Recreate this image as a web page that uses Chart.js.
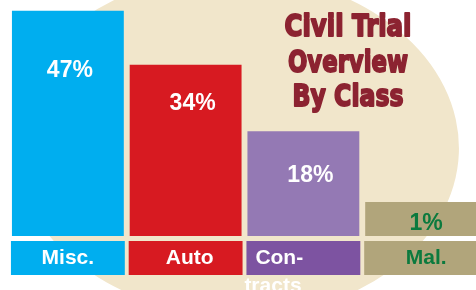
<!DOCTYPE html>
<html>
<head>
<meta charset="utf-8">
<script src="https://cdn.jsdelivr.net/npm/chart.js@4.4.1/dist/chart.umd.min.js"></script>
<style>
  html, body { margin: 0; padding: 0; background: #ffffff; overflow: hidden; }
  #wrap { width: 476px; height: 290px; overflow: hidden; position: relative; }
  canvas { display: block; }
</style>
</head>
<body>
<div id="wrap"><canvas id="c" width="482" height="290"></canvas></div>
<script>
// ---- data ----
const categories = ['Misc.', 'Auto', 'Contracts', 'Mal.'];
const categoryLines = [['Misc.'], ['Auto'], ['Con-', 'tracts'], ['Mal.']];
const shares = [47, 34, 18, 1];
const shareLabels = ['47%', '34%', '18%', '1%'];
const titleLines = ['Civil Trial', 'Overview', 'By Class'];
const axisFloor = -7.2;
const axisTop = 49.56;

// ---- styles ----
const barColors = ['#00AEEF', '#D71A21', '#9479B4', '#B1A57B'];
const boxColors = ['#00AEEF', '#D71A21', '#7D53A1', '#B1A57B'];
const valueTextColors = ['#ffffff', '#ffffff', '#ffffff', '#0B7A3E'];
const catTextColors = ['#ffffff', '#ffffff', '#ffffff', '#0B7A3E'];
const valueOffsets = [[2, 66], [7, 45], [7, 51], [5, 28]];   // [dx, baseline below bar top]
const catAlign = ['center', 'center', 'left', 'center'];
const catDx = [0, 4, -48, 5];

const decor = {
  id: 'decor',
  beforeDatasetsDraw(chart) {
    const ctx = chart.ctx;
    ctx.save();
    ctx.fillStyle = '#F1E6CB';
    ctx.beginPath();
    ctx.ellipse(236, 145, 223, 171, 0.035, 0, Math.PI * 2);
    ctx.fill();
    ctx.restore();
  },
  afterDatasetsDraw(chart) {
    const ctx = chart.ctx;
    const meta = chart.getDatasetMeta(0);
    ctx.save();
    meta.data.forEach((bar, i) => {
      const half = bar.width / 2 + 1;
      // category box
      ctx.fillStyle = boxColors[i];
      ctx.fillRect(bar.x - half, 241, half * 2, 34);
      // value label
      ctx.font = 'bold 23px "Liberation Sans", Arial, sans-serif';
      ctx.textAlign = 'center';
      ctx.textBaseline = 'alphabetic';
      ctx.fillStyle = valueTextColors[i];
      ctx.fillText(shareLabels[i], bar.x + valueOffsets[i][0], bar.y + valueOffsets[i][1]);
      // category label
      ctx.font = 'bold 21px "Liberation Sans", Arial, sans-serif';
      ctx.textAlign = catAlign[i];
      ctx.fillStyle = catTextColors[i];
      categoryLines[i].forEach((line, k) => {
        const dx = catDx[i] - (k > 0 ? 11 : 0);
        ctx.fillText(line, bar.x + dx, 264 + k * 28);
      });
    });
    // title
    ctx.fillStyle = '#8C2331';
    ctx.strokeStyle = '#8C2331';
    ctx.lineWidth = 2;
    ctx.lineJoin = 'round';
    ctx.font = 'bold 31px "DejaVu Sans", sans-serif';
    ctx.textAlign = 'center';
    ctx.textBaseline = 'alphabetic';
    const widths = [127, 120, 111];
    const baselines = [36, 72, 106];
    titleLines.forEach((t, k) => {
      ctx.fillText(t, 348, baselines[k], widths[k]);
      ctx.strokeText(t, 348, baselines[k], widths[k]);
    });
    ctx.restore();
  }
};

new Chart(document.getElementById('c'), {
  type: 'bar',
  data: {
    labels: categories,
    datasets: [{
      data: shares,
      base: axisFloor,
      backgroundColor: barColors,
      borderWidth: 0,
      categoryPercentage: 1,
      barPercentage: 0.95
    }]
  },
  options: {
    responsive: false,
    animation: false,
    devicePixelRatio: 1,
    layout: { padding: { left: 9, right: 2, top: 0, bottom: 54 } },
    plugins: { legend: { display: false }, tooltip: { enabled: false }, title: { display: false } },
    scales: {
      x: { display: false },
      y: { display: false, min: axisFloor, max: axisTop }
    }
  },
  plugins: [decor]
});
</script>
</body>
</html>
